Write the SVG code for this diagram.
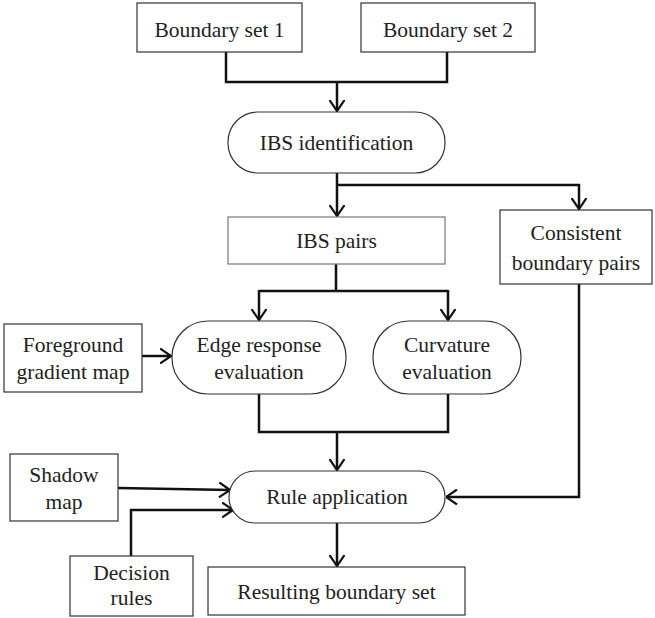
<svg xmlns="http://www.w3.org/2000/svg" width="655" height="618" viewBox="0 0 655 618">
<style>
.n{fill:#fff;stroke:#333;stroke-width:1.2}
.t{font-size:21.5px;fill:#222;text-anchor:middle}
.c{fill:none;stroke:#111;stroke-width:2.5}
</style>
<defs>
<marker id="a" markerUnits="userSpaceOnUse" viewBox="0 0 12 16" refX="11.5" refY="8" markerWidth="12" markerHeight="16" orient="auto">
<path d="M0.5,0.5 L11.5,8 L0.5,15.5" fill="none" stroke="#111" stroke-width="2.2"/>
</marker>
</defs>
<rect width="655" height="618" fill="#fff"/>
<g id="connectors">
<path class="c" d="M226,52 V82 H447 V52"/>
<path class="c" d="M337,82 V111" marker-end="url(#a)"/>
<path class="c" d="M337,173 V216" marker-end="url(#a)"/>
<path class="c" d="M337,185 H579 V209" marker-end="url(#a)"/>
<path class="c" d="M336,264 V291"/>
<path class="c" d="M259,291 H448"/>
<path class="c" d="M259,290 V320" marker-end="url(#a)"/>
<path class="c" d="M448,290 V320" marker-end="url(#a)"/>
<path class="c" d="M142,356 H171" marker-end="url(#a)"/>
<path class="c" d="M259,394 V432 H448 V394"/>
<path class="c" d="M337,432 V470" marker-end="url(#a)"/>
<path class="c" d="M118,488 L230,490" marker-end="url(#a)"/>
<path class="c" d="M131,556 V510 H233" marker-end="url(#a)"/>
<path class="c" d="M579,284 V497 H446" marker-end="url(#a)"/>
<path class="c" d="M337,523 V566" marker-end="url(#a)"/>
</g>
<g font-family="Liberation Serif, DejaVu Serif, serif">
<g id="bs1"><rect class="n" x="137" y="3" width="165" height="49"/><text class="t" x="219.5" y="37">Boundary set 1</text></g>
<g id="bs2"><rect class="n" x="361" y="3" width="174" height="49"/><text class="t" x="448" y="37">Boundary set 2</text></g>
<g id="ibsid"><rect class="n" x="228" y="112" width="217" height="61" rx="30"/><text class="t" x="336.5" y="150">IBS identification</text></g>
<g id="ibspairs"><rect class="n" x="228" y="217" width="217" height="47" style="stroke:#777"/><text class="t" x="336.5" y="248">IBS pairs</text></g>
<g id="consistent"><rect class="n" x="500" y="210" width="152" height="74"/><text class="t" x="576" y="240">Consistent</text><text class="t" x="576" y="270">boundary pairs</text></g>
<g id="fgm"><rect class="n" x="4" y="324" width="138" height="68"/><text class="t" x="73" y="352">Foreground</text><text class="t" x="73" y="379">gradient map</text></g>
<g id="edge"><rect class="n" x="172" y="321" width="174" height="73" rx="36"/><text class="t" x="259" y="352">Edge response</text><text class="t" x="259" y="379">evaluation</text></g>
<g id="curv"><rect class="n" x="373" y="321" width="148" height="73" rx="36"/><text class="t" x="447" y="352">Curvature</text><text class="t" x="447" y="379">evaluation</text></g>
<g id="shadow"><rect class="n" x="10" y="454" width="108" height="67"/><text class="t" x="64" y="482">Shadow</text><text class="t" x="64" y="509">map</text></g>
<g id="rule"><rect class="n" x="229" y="471" width="216" height="52" rx="26"/><text class="t" x="337" y="504">Rule application</text></g>
<g id="decision"><rect class="n" x="70" y="556" width="123" height="60"/><text class="t" x="131.5" y="580">Decision</text><text class="t" x="131.5" y="605">rules</text></g>
<g id="result"><rect class="n" x="208" y="567" width="257" height="48"/><text class="t" x="336.5" y="599">Resulting boundary set</text></g>
</g>
</svg>
